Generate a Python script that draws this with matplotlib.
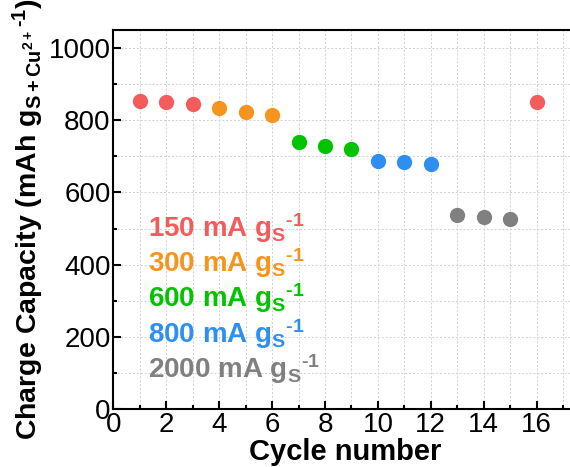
import matplotlib
matplotlib.use("Agg")
import matplotlib.pyplot as plt
from matplotlib.ticker import MultipleLocator

plt.rcParams["font.family"] = ["Liberation Sans", "DejaVu Sans"]
plt.rcParams["mathtext.fontset"] = "custom"
plt.rcParams["mathtext.rm"] = "Liberation Sans:bold"
plt.rcParams["mathtext.it"] = "Liberation Sans:bold"
plt.rcParams["mathtext.bf"] = "Liberation Sans:bold"

cycles = [1, 2, 3, 4, 5, 6, 7, 8, 9, 10, 11, 12, 13, 14, 15, 16]
capacity = [854, 850, 846, 833, 822, 815, 739, 729, 719, 687, 684, 680,
            538, 533, 525, 850]
rate_of_cycle = [0, 0, 0, 1, 1, 1, 2, 2, 2, 3, 3, 3, 4, 4, 4, 0]
rate_labels = ["150", "300", "600", "800", "2000"]
rate_colors = ["#f45b5b", "#f7941d", "#00c400", "#2e8ff0", "#808080"]

fig = plt.figure(figsize=(5.70, 4.67), dpi=100)
ax = fig.add_axes([0.199, 0.124, 0.812, 0.812])

for x, y, r in zip(cycles, capacity, rate_of_cycle):
    ax.plot(x, y, "o", color=rate_colors[r], ms=11, mec="none", zorder=3)

# coloured rate labels stacked at the lower left
for i, (lab, col) in enumerate(zip(rate_labels, rate_colors)):
    ax.text(0.075, 0.454 - i * 0.093,
            f"{lab} mA g$_{{S}}$$^{{\\text{{-1}}}}$",
            transform=ax.transAxes, color=col, fontsize=20,
            fontweight="bold", va="baseline")

ax.set_xlim(0, 17.5)
ax.set_ylim(0, 1050)
ax.xaxis.set_major_locator(MultipleLocator(2))
ax.xaxis.set_minor_locator(MultipleLocator(1))
ax.yaxis.set_major_locator(MultipleLocator(200))
ax.yaxis.set_minor_locator(MultipleLocator(100))
ax.tick_params(which="both", direction="in", width=1.5, labelsize=20, pad=2)
ax.tick_params(which="major", length=6)
ax.tick_params(which="minor", length=3)
ax.grid(which="both", ls=(0, (2, 2)), color="#d0d0d0", lw=0.7)
ax.set_axisbelow(True)
for s in ax.spines.values():
    s.set_linewidth(1.5)

ax.set_xlabel("Cycle number", fontsize=21, fontweight="bold", labelpad=0)
ax.set_ylabel("Charge Capacity (mAh g$_{S+Cu^{2+}}$$^{\\text{-1}}$)",
              fontsize=20.5, fontweight="bold", labelpad=2)

fig.savefig("out.png", dpi=100)
